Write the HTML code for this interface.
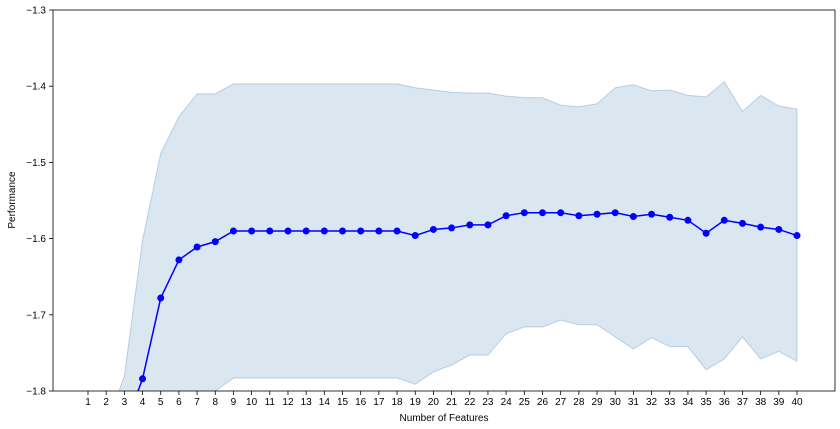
<!DOCTYPE html>
<html><head><meta charset="utf-8"><style>
html,body{margin:0;padding:0;background:#fff;overflow:hidden;width:840px;height:429px;}
svg{display:block;overflow:hidden;}
svg text{font-family:"Liberation Sans",sans-serif;font-size:10px;fill:#000;}
</style></head><body>
<svg id="chart" width="840" height="429">
<defs><clipPath id="clip"><rect x="53" y="10" width="782" height="381"/></clipPath></defs>
<g id="band" clip-path="url(#clip)"></g>
<g id="line" clip-path="url(#clip)"></g>
<rect x="53" y="10" width="782" height="381" fill="none" stroke="#000" stroke-width="0.8"/>
<g id="axes"></g>
<text x="444" y="421" text-anchor="middle">Number of Features</text>
<text transform="translate(15,200) rotate(-90)" text-anchor="middle">Performance</text>
</svg>
<script>
const features = Array.from({length:40},(_,i)=>i+1);
const meanScores = [-2.0,-2.0,-2.0,-1.784,-1.678,-1.628,-1.611,-1.604,-1.590,-1.590,-1.590,-1.590,-1.590,-1.590,-1.590,-1.590,-1.590,-1.590,-1.596,-1.588,-1.586,-1.582,-1.582,-1.570,-1.566,-1.566,-1.566,-1.570,-1.568,-1.566,-1.571,-1.568,-1.572,-1.576,-1.593,-1.576,-1.580,-1.585,-1.588,-1.596];
const upperBand = [-2.2,-2.1,-1.780,-1.602,-1.488,-1.440,-1.410,-1.410,-1.397,-1.397,-1.397,-1.397,-1.397,-1.397,-1.397,-1.397,-1.397,-1.397,-1.402,-1.405,-1.408,-1.409,-1.409,-1.413,-1.415,-1.415,-1.425,-1.427,-1.423,-1.402,-1.398,-1.406,-1.405,-1.412,-1.414,-1.394,-1.433,-1.412,-1.426,-1.430];
const lowerBand = [-2.4,-2.3,-2.2,-2.1,-2.0,-1.9,-1.85,-1.80,-1.783,-1.783,-1.783,-1.783,-1.783,-1.783,-1.783,-1.783,-1.783,-1.783,-1.791,-1.775,-1.766,-1.753,-1.753,-1.725,-1.716,-1.716,-1.707,-1.713,-1.713,-1.729,-1.745,-1.730,-1.742,-1.742,-1.772,-1.758,-1.729,-1.758,-1.748,-1.761];
const yTicks = [-1.3,-1.4,-1.5,-1.6,-1.7,-1.8];
const NS="http://www.w3.org/2000/svg";
const X0=53,X1=835,Y0=10,Y1=391,xmin=-0.925,xmax=42.09,ymin=-1.8,ymax=-1.3;
const sx=v=>X0+(v-xmin)/(xmax-xmin)*(X1-X0);
const syRaw=v=>Y1-(v-ymin)/(ymax-ymin)*(Y1-Y0);
const sy=v=>Math.min(428,Math.max(1,syRaw(v)));
function mk(t,a,p){const e=document.createElementNS(NS,t);for(const k in a)e.setAttribute(k,a[k]);p.appendChild(e);return e;}
const band=document.getElementById('band'),line=document.getElementById('line'),axes=document.getElementById('axes');
let pts=features.map((f,i)=>sx(f)+','+sy(upperBand[i]));
for(let i=features.length-1;i>=0;i--)pts.push(sx(features[i])+','+sy(lowerBand[i]));
const poly=mk('polygon',{points:pts.join(' '),fill:'rgba(70,130,180,0.2)',stroke:'rgba(70,130,180,0.3)','stroke-width':1},band);


const pl=mk('polyline',{points:features.map((f,i)=>sx(f)+','+sy(meanScores[i])).join(' '),fill:'none',stroke:'#0000ff','stroke-width':1.5},line);


features.forEach((f,i)=>{const c=mk('circle',{cx:sx(f),cy:sy(meanScores[i]),r:3.5,fill:'#0000ff'},line);

});
features.forEach(f=>{const x=sx(f);mk('line',{x1:x,x2:x,y1:Y1,y2:Y1+4,stroke:'#000','stroke-width':0.8},axes);
const t=mk('text',{x:x,y:Y1+14,'text-anchor':'middle'},axes);t.textContent=f;

});
yTicks.forEach(v=>{const y=syRaw(v);mk('line',{x1:X0-4,x2:X0,y1:y,y2:y,stroke:'#000','stroke-width':0.8},axes);
const t=mk('text',{x:X0-7,y:y+3.5,'text-anchor':'end'},axes);t.textContent=v.toFixed(1).replace('-','\u2212');

});
</script>
</body></html>
